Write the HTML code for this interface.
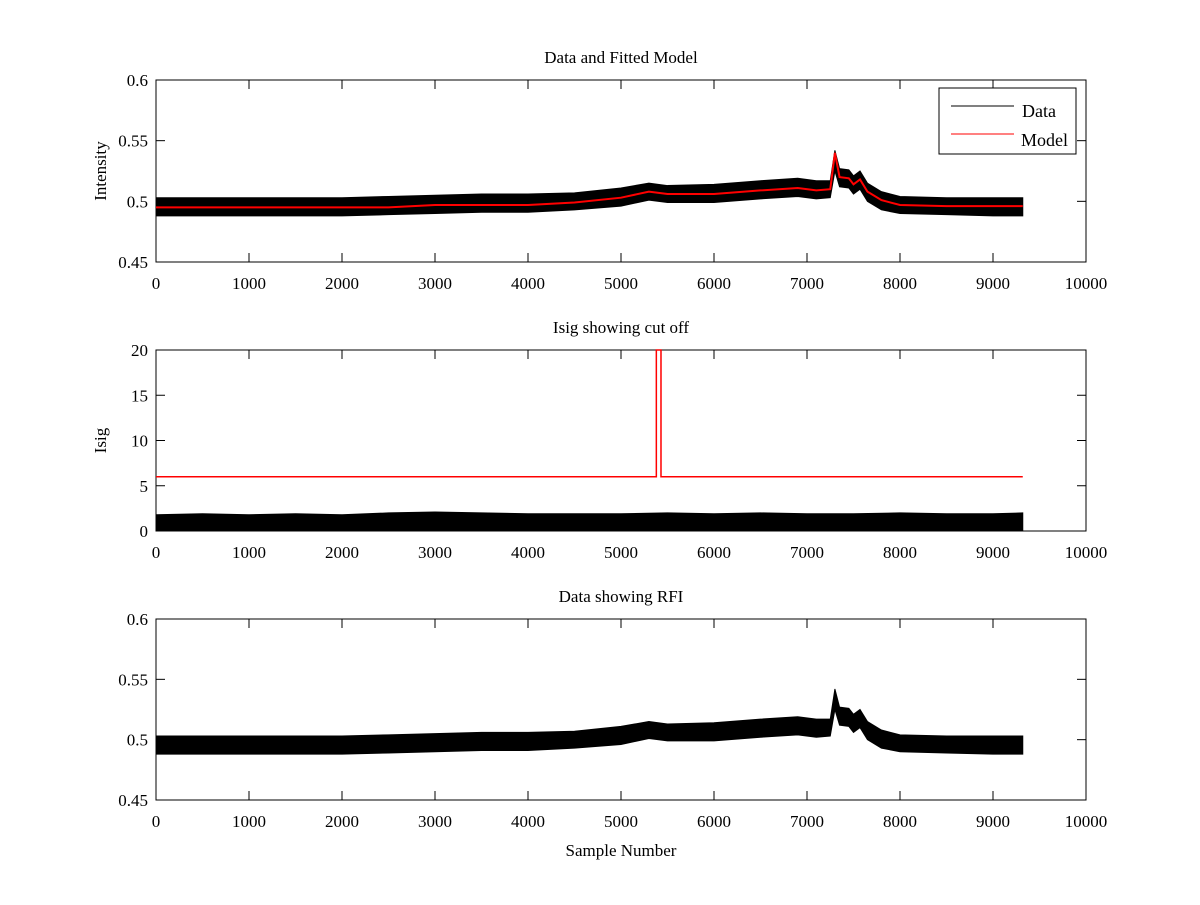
<!DOCTYPE html>
<html><head><meta charset="utf-8"><style>
body{margin:0;background:#fff}
svg{font-family:"Liberation Serif",serif;font-size:17px}
</style></head><body>
<svg id="c" width="1200" height="900"></svg>
<script>
// data (envelopes of noisy series)
const sampleX=[0,500,1000,1500,2000,2500,3000,3500,4000,4500,5000,5300,5500,6000,6500,6900,7100,7250,7300,7350,7450,7500,7570,7650,7800,8000,8500,9000,9320];
const modelY=[0.495,0.495,0.495,0.495,0.495,0.495,0.497,0.497,0.497,0.499,0.503,0.508,0.506,0.506,0.509,0.511,0.509,0.510,0.540,0.520,0.519,0.514,0.518,0.508,0.501,0.497,0.496,0.496,0.496];
const dataHi=[0.503,0.503,0.503,0.503,0.503,0.504,0.505,0.506,0.506,0.507,0.511,0.515,0.513,0.514,0.517,0.519,0.517,0.517,0.542,0.527,0.526,0.521,0.525,0.515,0.508,0.504,0.503,0.503,0.503];
const dataLo=[0.488,0.488,0.488,0.488,0.488,0.489,0.490,0.491,0.491,0.493,0.496,0.501,0.499,0.499,0.502,0.504,0.502,0.503,0.525,0.512,0.511,0.506,0.510,0.500,0.493,0.490,0.489,0.488,0.488];
const isigX=[0,500,1000,1500,2000,2500,3000,3500,4000,4500,5000,5500,6000,6500,7000,7500,8000,8500,9000,9320];
const isigHi=[1.8,1.9,1.8,1.9,1.8,2.0,2.1,2.0,1.9,1.9,1.9,2.0,1.9,2.0,1.9,1.9,2.0,1.9,1.9,2.0];
const cutX=[0,5380,5380,5430,5430,9320];
const cutY=[6,6,20,20,6,6];
const xTicks=[0,1000,2000,3000,4000,5000,6000,7000,8000,9000,10000];
const yTicks1=[0.45,0.5,0.55,0.6];
const yTicks2=[0,5,10,15,20];

const NS="http://www.w3.org/2000/svg",svg=document.getElementById('c');
function el(t,a,p){const e=document.createElementNS(NS,t);for(const k in a)e.setAttribute(k,a[k]);(p||svg).appendChild(e);return e;}
const X0=156,X1=1086;
const sx=v=>X0+(v/10000)*(X1-X0);
function axes(top,bot,ymin,ymax,yt,title,ylab,name){
  const g=el('g',{});
  
  
  const sy=v=>bot-(v-ymin)/(ymax-ymin)*(bot-top);
  el('rect',{x:X0,y:top,width:X1-X0,height:bot-top,fill:'#fff',stroke:'#000'},g);
  xTicks.forEach(t=>{const x=sx(t);
    el('line',{x1:x,x2:x,y1:bot,y2:bot-9,stroke:'#000'},g);
    el('line',{x1:x,x2:x,y1:top,y2:top+9,stroke:'#000'},g);
    const tx=el('text',{x:x,y:bot+27,'text-anchor':'middle'},g);tx.textContent=t;});
  yt.forEach(t=>{const y=sy(t);
    el('line',{x1:X0,x2:X0+9,y1:y,y2:y,stroke:'#000'},g);
    el('line',{x1:X1,x2:X1-9,y1:y,y2:y,stroke:'#000'},g);
    const tx=el('text',{x:X0-8,y:y+6,'text-anchor':'end'},g);tx.textContent=t;});
  const tt=el('text',{x:(X0+X1)/2,y:top-17,'text-anchor':'middle'},g);tt.textContent=title;
  
  const yl=el('text',{transform:`translate(${X0-50},${(top+bot)/2}) rotate(-90)`,'text-anchor':'middle'},g);yl.textContent=ylab;
  return {g,sy};
}
function band(g,xs,hi,lo,sy){
  let d='M'+xs.map((x,i)=>sx(x)+','+sy(hi[i])).join('L');
  for(let i=xs.length-1;i>=0;i--)d+='L'+sx(xs[i])+','+sy(lo[i]);
  return el('path',{d:d+'Z',fill:'#000',stroke:'#000','stroke-width':1},g);
}
function line(g,xs,ys,sy,col){
  return el('polyline',{points:xs.map((x,i)=>sx(x)+','+sy(ys[i])).join(' '),fill:'none',stroke:col,'stroke-width':2},g);
}
// plot 1
let a=axes(80,262,0.45,0.6,yTicks1,'Data and Fitted Model','Intensity','plot-fitted-model');
let b=band(a.g,sampleX,dataHi,dataLo,a.sy);


let m=line(a.g,sampleX,modelY,a.sy,'#f00');


const lg=el('g',{},a.g);


el('rect',{x:939,y:88,width:137,height:66,fill:'#fff',stroke:'#000'},lg);
el('line',{x1:951,x2:1014,y1:106,y2:106,stroke:'#000'},lg);
el('line',{x1:951,x2:1014,y1:134,y2:134,stroke:'#f00'},lg);
let t1=el('text',{x:1022,y:117,'font-size':18},lg);t1.textContent='Data';
let t2=el('text',{x:1021,y:146,'font-size':18},lg);t2.textContent='Model';
// plot 2
a=axes(350,531,0,20,yTicks2,'Isig showing cut off','Isig','plot-isig');
b=band(a.g,isigX,isigHi,isigX.map(()=>0),a.sy);


m=line(a.g,cutX,cutY,a.sy,'#f00');
m.setAttribute('stroke-width','1.5');


// plot 3
a=axes(619,800,0.45,0.6,yTicks1,'Data showing RFI','','plot-rfi');
b=band(a.g,sampleX,dataHi,dataLo,a.sy);


const xl=el('text',{x:621,y:856,'text-anchor':'middle'});xl.textContent='Sample Number';


</script>
</body></html>
